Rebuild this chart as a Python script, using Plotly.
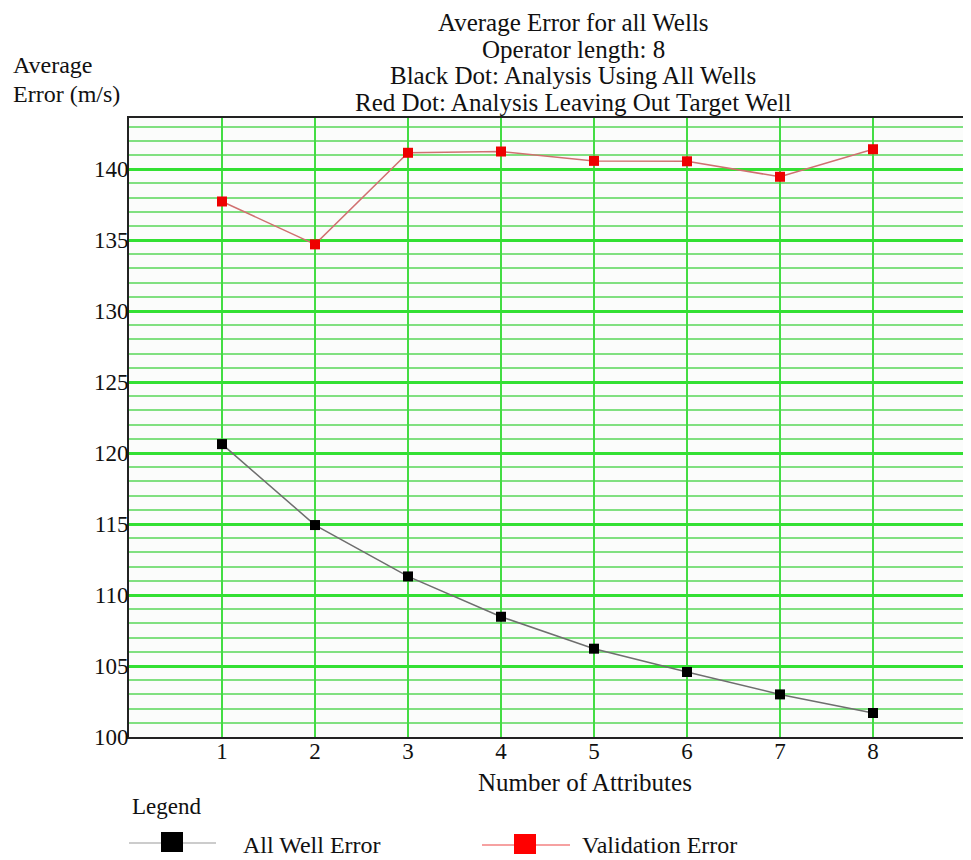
import plotly.graph_objects as go

attributes = [1, 2, 3, 4, 5, 6, 7, 8]
all_well_error = [120.63, 114.93, 111.31, 108.47, 106.22, 104.58, 103.0, 101.69]
validation_error = [137.72, 134.7, 141.15, 141.24, 140.58, 140.55, 139.46, 141.4]

title_lines = [
    "Average Error for all Wells",
    "Operator length: 8",
    "Black Dot: Analysis Using All Wells",
    "Red Dot: Analysis Leaving Out Target Well",
]

FONT = "Liberation Serif, Times New Roman, serif"

fig = go.Figure()
fig.add_trace(go.Scatter(
    x=attributes, y=all_well_error, mode="lines+markers", name="All Well Error",
    line=dict(color="#6e6e6e", width=1.5),
    marker=dict(symbol="square", size=10, color="black"),
))
fig.add_trace(go.Scatter(
    x=attributes, y=validation_error, mode="lines+markers", name="Validation Error",
    line=dict(color="#d07070", width=1.5),
    marker=dict(symbol="square", size=10, color="#ee0000"),
))

# page body has an 8px margin; positions below are in window pixels
OFF = 8
W, H = 971 - OFF, 860 - OFF
L, R, T, B = 129 - OFF, 5, 118 - OFF, 860 - 737

fig.update_layout(
    width=W, height=H,
    margin=dict(l=L, r=R, t=T, b=B, autoexpand=False),
    paper_bgcolor="white",
    plot_bgcolor="#fbfcfb",
    showlegend=False,
    font=dict(family=FONT, size=23, color="#111"),
)
fig.update_xaxes(
    range=[0, 9], tickmode="array", tickvals=attributes,
    showgrid=True, gridcolor="#44dd44", gridwidth=2,
    showline=True, linecolor="#222", linewidth=2, mirror=True,
    zeroline=False, ticks="", tickfont=dict(family=FONT, size=23),
    automargin=False, ticklabelstandoff=-8,
)
fig.update_yaxes(
    range=[100, 143.6], tickmode="linear", tick0=100, dtick=5,
    showgrid=True, gridcolor="#33e033", gridwidth=2.5,
    minor=dict(dtick=1, tick0=100, showgrid=True, gridcolor="#80e080", gridwidth=2),
    showline=True, linecolor="#222", linewidth=2, mirror=True,
    zeroline=False, ticks="", tickfont=dict(family=FONT, size=23),
    automargin=False, ticklabelstandoff=-6,
)

def px(xp):
    return (xp - OFF - L) / (W - L - R)

def py(yp):
    return 1 + (T - (yp - OFF)) / (H - T - B)

def text(t, x, y, size, anchor="center"):
    return dict(text=t, xref="paper", yref="paper", x=px(x), y=py(y),
                xanchor=anchor, yanchor="middle", showarrow=False,
                font=dict(family=FONT, size=size, color="#111"))

ann = []
for i, t in enumerate(title_lines):
    ann.append(text(t, 573, 23 + 26.4 * i, 25))
ann.append(text("Average", 11, 65, 24, "left"))
ann.append(text("Error (m/s)", 11, 94, 24, "left"))
ann.append(text("Number of Attributes", 585, 782, 25))
ann.append(text("Legend", 130, 806, 23, "left"))
ann.append(text("All Well Error", 241, 845, 24, "left"))
ann.append(text("Validation Error", 580, 845, 24, "left"))

shapes = [
    dict(type="line", xref="paper", yref="paper", x0=px(129), x1=px(216), y0=py(843), y1=py(843),
         line=dict(color="#999", width=1.2)),
    dict(type="rect", xref="paper", yref="paper", x0=px(161), x1=px(183), y0=py(832), y1=py(852),
         fillcolor="black", line=dict(width=0)),
    dict(type="line", xref="paper", yref="paper", x0=px(482), x1=px(570), y0=py(845), y1=py(845),
         line=dict(color="#ee4444", width=1.2)),
    dict(type="rect", xref="paper", yref="paper", x0=px(514), x1=px(536), y0=py(834), y1=py(854),
         fillcolor="#ff0000", line=dict(width=0)),
]

fig.update_layout(annotations=ann, shapes=shapes)
fig.write_html("out.html")
